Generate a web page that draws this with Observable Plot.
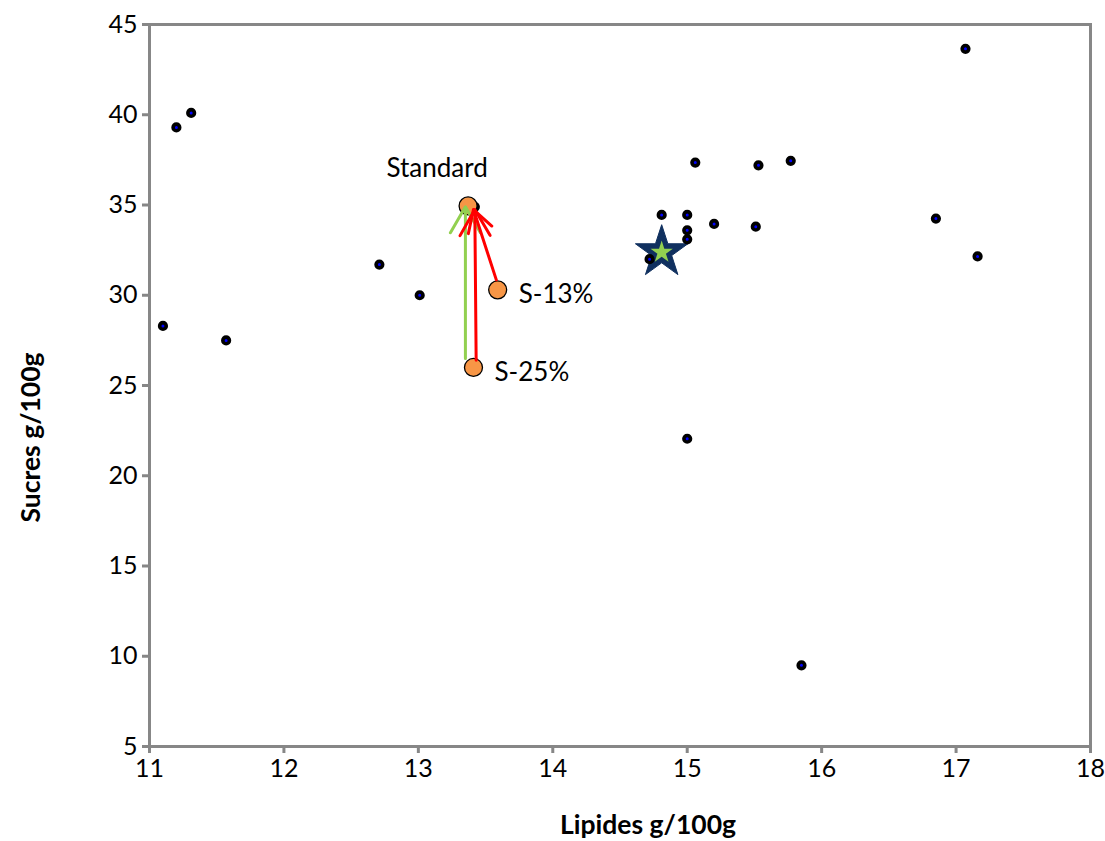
<!DOCTYPE html>
<html>
<head>
<meta charset="utf-8">
<script src="https://cdn.jsdelivr.net/npm/d3@7"></script>
<script src="https://cdn.jsdelivr.net/npm/@observablehq/plot@0.6"></script>
<style>
  html, body { margin: 0; padding: 0; background: #fff; }
  #chart svg { display: block; }
</style>
</head>
<body>
<div id="chart"></div>
<script>
// Market products (small dark dots)
const lipides = [11.10, 11.20, 11.31, 11.57, 12.71, 13.01, 13.42, 14.72, 14.81, 15.00, 15.00, 15.00, 15.06, 15.20, 15.51, 15.53, 15.77, 15.00, 15.85, 16.85, 17.07, 17.16];
const sucres  = [28.3, 39.3, 40.1, 27.5, 31.7, 30.0, 34.9, 32.0, 34.45, 34.45, 33.6, 33.1, 37.35, 33.95, 33.8, 37.2, 37.45, 22.05, 9.5, 34.25, 43.65, 32.15];

// Recipes (orange circles)
const recetteNoms = ["Standard", "S-13%", "S-25%"];
const recetteLipides = [13.37, 13.59, 13.41];
const recetteSucres = [34.95, 30.3, 26.0];

// Average of the market (star)
const moyenneLipides = [14.81];
const moyenneSucres = [32.38];

// Arrows (from reduced recipes to the standard)
const flecheX1 = [13.35, 13.43, 13.58];
const flecheY1 = [26.5, 26.4, 30.85];
const flecheX2 = [13.35, 13.42, 13.41];
const flecheY2 = [34.9, 34.75, 34.75];
const flecheCouleur = ["#92d050", "#ff0000", "#ff0000"];

const xTicks = [11, 12, 13, 14, 15, 16, 17, 18];
const yTicks = [5, 10, 15, 20, 25, 30, 35, 40, 45];

const produits = lipides.map((l, i) => ({l, s: sucres[i]}));
const recettes = recetteNoms.map((n, i) => ({n, l: recetteLipides[i], s: recetteSucres[i]}));
const moyenne = moyenneLipides.map((l, i) => ({l, s: moyenneSucres[i]}));
const fleches = flecheX1.map((x1, i) => ({x1, y1: flecheY1[i], x2: flecheX2[i], y2: flecheY2[i], c: flecheCouleur[i]}));

const grey = "#878787";
const font = "Lato, 'Open Sans', sans-serif";

const chart = Plot.plot({
  width: 1105,
  height: 841,
  marginLeft: 149,
  marginRight: 15,
  marginTop: 24,
  marginBottom: 95,
  style: {fontFamily: font, fontSize: "25px", color: "#000", background: "#fff"},
  x: {domain: [11, 18], ticks: xTicks},
  y: {domain: [5, 45], ticks: yTicks},
  marks: [
    Plot.axisX({ticks: xTicks, tickFormat: "d", tickSize: 7, tickPadding: 6, stroke: grey, strokeWidth: 3, fill: "#000", fontSize: 25, label: null}),
    Plot.axisY({ticks: yTicks, tickFormat: "d", tickSize: 7, tickPadding: 5, stroke: grey, strokeWidth: 3, fill: "#000", fontSize: 25, label: null}),
    Plot.frame({stroke: grey, strokeWidth: 3}),
    Plot.dot(moyenne, {x: "l", y: "s", symbol: "star", r: 16.5, fill: "#10305f", stroke: "#10305f", strokeWidth: 1}),
    Plot.dot(moyenne, {x: "l", y: "s", symbol: "star", r: 7, fill: "#92d050", stroke: "none"}),
    Plot.dot(produits, {x: "l", y: "s", r: 3.3, fill: "#0000ff", stroke: "#000", strokeWidth: 3.6}),
    Plot.dot(recettes, {x: "l", y: "s", r: 9, fill: "#f79646", stroke: "#000", strokeWidth: 1.3}),
    Plot.arrow(fleches, {x1: "x1", y1: "y1", x2: "x2", y2: "y2", stroke: "c", strokeWidth: 3, headLength: 15, headAngle: 60}),
    Plot.text(recettes.filter(d => d.n === "Standard"), {x: "l", y: "s", text: "n", dx: -31, dy: -37, fontSize: 26, textAnchor: "middle", fill: "#000"}),
    Plot.text(recettes.filter(d => d.n !== "Standard"), {x: "l", y: "s", text: "n", dx: 21, dy: 5, fontSize: 26, textAnchor: "start", fill: "#000"}),
    Plot.text(["Sucres g/100g"], {frameAnchor: "left", textAnchor: "middle", dx: -118, dy: 52, rotate: -90, fontSize: 26.5, fontWeight: "bold", fill: "#000"}),
    Plot.text(["Lipides g/100g"], {frameAnchor: "bottom", textAnchor: "middle", dx: 28, dy: 87, fontSize: 26.5, fontWeight: "bold", fill: "#000"})
  ]
});
document.getElementById("chart").appendChild(chart);
</script>
</body>
</html>
